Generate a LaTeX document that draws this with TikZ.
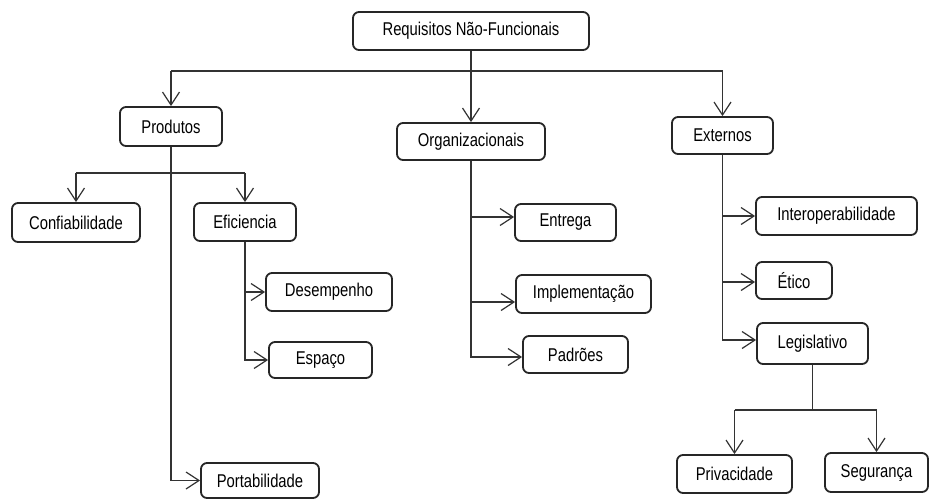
\documentclass[tikz,border=0pt]{standalone}
\usepackage{fontspec}
\setmainfont{Liberation Sans}[FakeStretch=0.8]
\usetikzlibrary{arrows.meta}
\begin{document}
\begin{tikzpicture}[x=1pt,y=-1pt,
  box/.style={draw=black!85, line width=1.8pt, rounded corners=6pt, fill=white,
    inner sep=0pt, font=\fontsize{18.5}{20}\selectfont},
  link/.style={draw=black!80, line width=1.2pt},
  arr/.style={link, -{Straight Barb[length=13pt,width=17pt]}}]
\useasboundingbox (0,0) rectangle (929,499);

% boxes: centre, width, height in pixel units
\node[box, minimum width=236pt, minimum height=38pt] (root)   at (471,31)    {Requisitos Não-Funcionais};
\node[box, minimum width=102pt, minimum height=39pt] (prod)   at (171,126.5) {Produtos};
\node[box, minimum width=148pt, minimum height=37pt] (org)    at (471,141.5) {Organizacionais};
\node[box, minimum width=101pt, minimum height=37pt] (ext)    at (722.5,135.5) {Externos};

\node[box, minimum width=128pt, minimum height=39pt] (conf)   at (76,222.5)  {Confiabilidade};
\node[box, minimum width=102pt, minimum height=38pt] (efic)   at (245,222)   {Eficiencia};
\node[box, minimum width=126pt, minimum height=38pt] (desemp) at (329,292)   {Desempenho};
\node[box, minimum width=103pt, minimum height=36pt] (esp)    at (320.5,360) {Espaço};
\node[box, minimum width=118pt, minimum height=35pt] (port)   at (260,480.5) {Portabilidade};

\node[box, minimum width=101pt, minimum height=37pt] (entr)   at (565.5,222.5) {Entrega};
\node[box, minimum width=135pt, minimum height=38pt] (impl)   at (583.5,294) {Implementação};
\node[box, minimum width=105pt, minimum height=37pt] (padr)   at (575.5,354.5) {Padrões};

\node[box, minimum width=161pt, minimum height=38pt] (inter)  at (836.5,216) {Interoperabilidade};
\node[box, minimum width=76pt,  minimum height=37pt] (etico)  at (794,280.5) {Ético};
\node[box, minimum width=111pt, minimum height=41pt] (legis)  at (812.5,343.5) {Legislativo};
\node[box, minimum width=115pt, minimum height=38pt] (priv)   at (734.5,474) {Privacidade};
\node[box, minimum width=103pt, minimum height=39pt] (segur)  at (876.5,472.5) {Segurança};

% branching bars
\coordinate (topbar)  at (0,71);
\coordinate (prodbar) at (0,173);
\coordinate (legbar)  at (0,410);

% root level
\draw[link] (root.south) -- (root.south |- topbar);
\draw[link] (prod.north |- topbar) -- (ext.north |- topbar);
\draw[arr] (prod.north |- topbar) -- (prod.north);
\draw[arr] (root.south) -- (org.north);
\draw[arr] (ext.north |- topbar) -- (ext.north);

% Produtos
\draw[link] (conf.north |- prodbar) -- (efic.north |- prodbar);
\draw[arr] (conf.north |- prodbar) -- (conf.north);
\draw[arr] (efic.north |- prodbar) -- (efic.north);
\draw[arr] (prod.south) |- (port.west);

% Eficiencia
\draw[arr] (efic.south) |- (desemp.west);
\draw[arr] (efic.south) |- (esp.west);

% Organizacionais
\draw[arr] (org.south) |- ([yshift=5.5pt]entr.west);
\draw[arr] (org.south) |- ([yshift=-8pt]impl.west);
\draw[arr] (org.south) |- ([yshift=-2.5pt]padr.west);

% Externos
\draw[arr] (ext.south) |- (inter.west);
\draw[arr] (ext.south) |- ([yshift=-1.5pt]etico.west);
\draw[arr] (ext.south) |- ([yshift=3.5pt]legis.west);

% Legislativo
\draw[link] (legis.south) -- (legis.south |- legbar);
\draw[link] (priv.north |- legbar) -- (segur.north |- legbar);
\draw[arr] (priv.north |- legbar) -- (priv.north);
\draw[arr] (segur.north |- legbar) -- (segur.north);
\end{tikzpicture}
\end{document}
